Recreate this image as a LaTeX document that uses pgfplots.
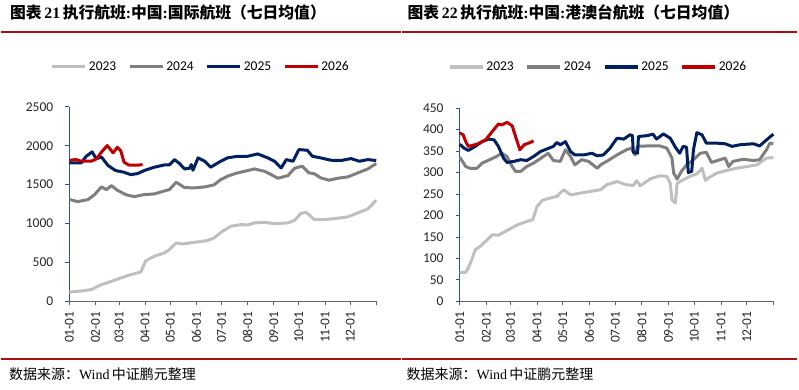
\documentclass[border=0pt]{standalone}
\usepackage{pgfplots}
\pgfplotsset{compat=1.18}
\usepackage{fontspec}
\setmainfont{Carlito}
\newfontfamily\cjk{Noto Sans CJK SC}
\newfontfamily\tnr{Liberation Serif}

\definecolor{c23}{RGB}{191,191,191}
\definecolor{c24}{RGB}{127,127,127}
\definecolor{c25}{RGB}{0,32,96}
\definecolor{c26}{RGB}{192,0,0}
\definecolor{rulered}{RGB}{170,16,22}
\definecolor{yax}{RGB}{50,80,140}
\definecolor{xax}{RGB}{100,100,100}

\pgfplotsset{
  panel/.style={
    scale only axis,
    axis x line=bottom, axis y line=left,
    axis line style={-},
    x axis line style={xax, line width=0.8pt},
    y axis line style={yax, line width=0.8pt},
    xmin=0, xmax=365, ymin=0,
    xtick={0,31,59,90,120,151,181,212,243,273,304,334,365},
    xticklabels={01-01,02-01,03-01,04-01,05-01,06-01,07-01,08-01,09-01,10-01,11-01,12-01,{}},
    tick align=outside, major tick length=4pt,
    xtick style={xax, line width=0.8pt},
    ytick style={yax, line width=0.8pt},
    /pgf/number format/assume math mode=true,
    /pgf/number format/1000 sep={},
    scaled y ticks=false,
    tick label style={font=\fontsize{13.5}{14}\selectfont, text=black!85},
    xticklabel style={rotate=90, anchor=east, inner sep=0pt},
    yticklabel style={anchor=east, inner sep=0pt},
    xticklabel shift=6pt,
    yticklabel shift=12pt,
    clip=false,
    legend columns=4,
    legend style={draw=none, fill=none, anchor=center,
      font=\fontsize{13.5}{14}\selectfont,
      nodes={inner xsep=2pt, inner ysep=0pt},
      column sep=0pt,
      /tikz/every even column/.append style={column sep=10pt}},
    legend image code/.code={\draw[#1, line width=3.2pt] (0pt,0pt) -- (33pt,0pt);},
    every axis plot/.append style={line width=3pt, line join=round, mark=none},
  }
}

\begin{document}
\begin{tikzpicture}[x=1pt,y=1pt]
\path (0,0) rectangle (799,390);

% titles
\node[anchor=base west, inner sep=0pt] at (9,371)
  {\fontsize{15.8}{16}\selectfont\bfseries{\cjk 图表}\,{\tnr 21}\,{\cjk 执行航班}{\tnr :}{\cjk 中国}{\tnr :}{\cjk 国际航班（七日均值）}};
\node[anchor=base west, inner sep=0pt] at (407,371)
  {\fontsize{15.8}{16}\selectfont\bfseries{\cjk 图表}\,{\tnr 22}\,{\cjk 执行航班}{\tnr :}{\cjk 中国}{\tnr :}{\cjk 港澳台航班（七日均值）}};
\draw[rulered, line width=2pt] (0,358) -- (400,358);
\draw[rulered, line width=2pt] (401,358) -- (797,358);
\draw[rulered, line width=2pt] (0,31) -- (400,31);
\draw[rulered, line width=2pt] (401,31) -- (797,31);
\node[anchor=base west, inner sep=0pt] at (8,10.5)
  {\fontsize{14}{15}\selectfont{\cjk 数据来源：}{\tnr Wind}\,{\cjk 中证鹏元整理}};
\node[anchor=base west, inner sep=0pt] at (406,10.5)
  {\fontsize{14}{15}\selectfont{\cjk 数据来源：}{\tnr Wind}\,{\cjk 中证鹏元整理}};

\begin{axis}[panel, at={(68.5pt,88.3pt)}, anchor=south west,
  width=307.2pt, height=194.7pt, ymax=2500, ytick={0,500,1000,1500,2000,2500},
  legend style={at={(0.428,1.2055)}}]
\addplot[c23] coordinates {(0,120)(14,133)(26,150)(32,184)(38,214)(50,257)(61,300)(73,343)(85,377)(87,429)(91,523)(101,579)(113,622)(119,665)(127,750)(135,738)(149,759)(164,780)(172,815)(182,900)(192,965)(204,986)(212,982)(220,1008)(232,1016)(244,999)(260,1008)(268,1042)(275,1128)(281,1145)(285,1115)(291,1051)(303,1051)(315,1063)(331,1085)(343,1136)(355,1188)(365,1299)};
\addlegendentry{2023}
\addplot[c24] coordinates {(0,1308)(10,1282)(22,1308)(30,1372)(38,1471)(44,1436)(50,1488)(57,1428)(67,1372)(77,1346)(89,1372)(101,1381)(113,1419)(119,1436)(127,1531)(137,1462)(149,1458)(161,1471)(172,1497)(180,1565)(188,1608)(200,1651)(212,1681)(220,1702)(232,1672)(240,1629)(248,1582)(260,1617)(268,1711)(277,1737)(285,1651)(291,1642)(299,1587)(309,1557)(319,1582)(331,1599)(343,1651)(355,1702)(365,1771)};
\addlegendentry{2024}
\addplot[c25] coordinates {(0,1780)(14,1780)(20,1865)(27,1921)(32,1831)(38,1857)(46,1745)(55,1681)(65,1659)(73,1629)(81,1642)(89,1681)(101,1724)(113,1754)(119,1754)(125,1822)(131,1771)(137,1702)(143,1711)(145,1758)(147,1685)(153,1844)(161,1801)(168,1724)(180,1801)(188,1844)(200,1865)(212,1865)(224,1895)(236,1844)(244,1801)(252,1715)(258,1822)(266,1801)(273,1951)(283,1942)(289,1865)(299,1844)(311,1814)(323,1810)(335,1835)(345,1801)(355,1822)(365,1810)};
\addlegendentry{2025}
\addplot[c26] coordinates {(0,1814)(8,1822)(14,1801)(26,1801)(32,1831)(38,1917)(45,2003)(52,1908)(57,1981)(61,1938)(65,1788)(71,1750)(81,1750)(87,1758)};
\addlegendentry{2026}
\end{axis}

\begin{axis}[panel, at={(459.3pt,88.3pt)}, anchor=south west,
  width=314pt, height=193.4pt, ymax=450, ytick={0,50,100,150,200,250,300,350,400,450},
  legend style={at={(0.4417,1.2136)}}]
\addplot[c23] coordinates {(0,67.5)(7,67.5)(10,77.6)(14,97)(18,120)(24,128)(32,143.5)(38,155)(45,154)(55,165)(67,178)(78,186)(85,190)(90,221)(96,235)(105,240.5)(113,244.4)(121,260)(129,248)(140,252)(152,256)(164,260)(171,271.6)(183,279)(194,271.6)(202,270)(206,281)(210,269)(222,285.5)(233,292.5)(241,291)(245,275)(247,236.6)(251,229)(253,275)(260,283)(268,291)(276,297)(282,310)(286,281.6)(289,287)(299,298.7)(311,305)(322,310)(334,314)(346,318)(357,333.6)(365,335)};
\addlegendentry{2023}
\addplot[c24] coordinates {(0,336)(7,314)(12,310)(20,310)(26,322)(36,331)(43,337.5)(49,345)(55,337.5)(61,314)(65,302.6)(71,302.6)(78,314)(86,322)(92,330)(100,341)(103,345)(109,328)(117,326)(123,353)(129,337.5)(134,318)(142,330)(150,326)(160,310)(164,318)(171,326)(183,341)(194,353)(200,357)(204,341)(207,361)(218,362)(233,362)(241,357)(247,333.6)(249,298.7)(253,284.8)(258,302.6)(264,318)(272,330)(280,345)(287,347)(293,323.5)(303,330)(309,333.6)(313,314)(318,326)(330,331)(342,328)(349,330)(357,353)(361,368.5)(365,367)};
\addlegendentry{2024}
\addplot[c25] coordinates {(0,366)(5,357)(10,351.5)(18,361)(26,372)(34,378)(40,376)(45,361)(51,333.6)(55,323.5)(63,326)(71,330)(78,328)(86,337.5)(94,349)(101,354.6)(109,361)(113,370)(117,364.7)(123,372)(129,349)(134,341)(144,341)(154,345)(160,339)(167,341)(175,357)(183,380)(191,378)(198,388)(201,386)(202,347)(207,345)(208,384)(218,386)(225,389.5)(229,378)(237,390)(245,380)(251,359)(256,345)(260,361)(264,359)(266,300)(270,302.6)(272,353)(276,393)(282,388)(287,368.5)(299,368.5)(309,367)(317,361)(326,364.7)(334,366)(342,367)(349,362)(357,376)(365,389.5)};
\addlegendentry{2025}
\addplot[c26] coordinates {(0,392)(4,388)(7,372)(10,361)(20,366)(30,376)(38,396)(45,413)(49,411)(55,417)(61,409)(65,384)(70,353)(75,364.7)(82,370)(86,374)};
\addlegendentry{2026}
\end{axis}
\end{tikzpicture}
\end{document}
